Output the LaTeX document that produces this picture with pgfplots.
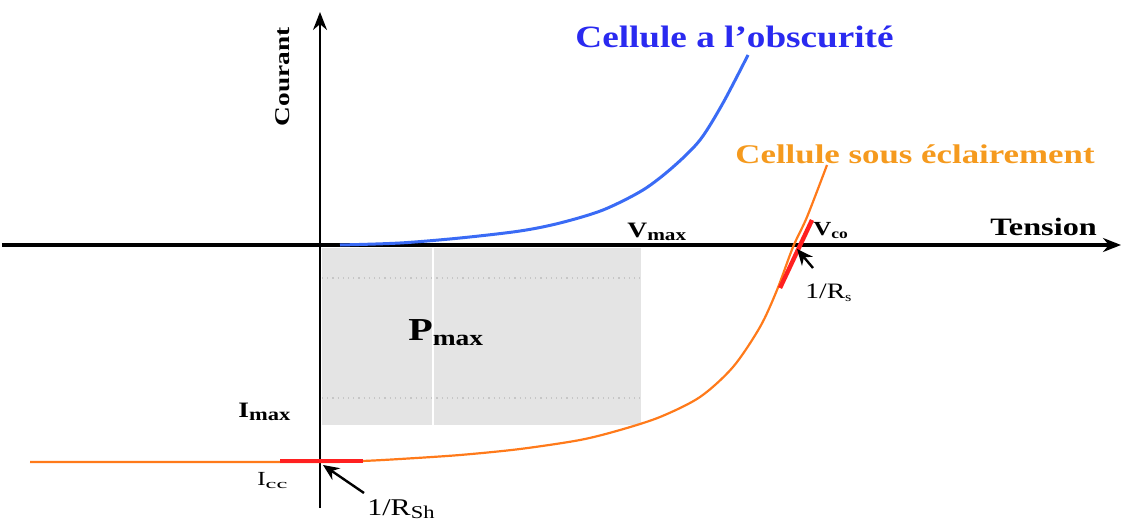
\documentclass[border=0pt]{standalone}
\usepackage{pgfplots}
\pgfplotsset{compat=1.18}
\usepackage{fontspec}
\setmainfont{Liberation Serif}
\usetikzlibrary{arrows.meta}

\definecolor{darkblue}{HTML}{2A2AF0}
\definecolor{curveblue}{HTML}{3A6BF5}
\definecolor{curveorange}{HTML}{FF7A1A}
\definecolor{textorange}{HTML}{F59A1E}
\definecolor{marker}{HTML}{FF2020}
\definecolor{zone}{HTML}{E4E4E4}

% wide-set lettering
\newcommand\st[2][1.25]{\scalebox{#1}[1]{#2}}
\newcommand\fs[1]{\fontsize{#1}{#1}\selectfont}
\newcommand\low[2]{\raisebox{-0.35ex}{\fs{#1}#2}}

\begin{document}
\begin{tikzpicture}
\begin{axis}[
  name=ax,
  scale only axis, width=561.5pt, height=262pt,
  xmin=0, xmax=1123, ymin=0, ymax=524, y dir=reverse,
  axis lines=none, clip=false,
]
% operating region under the maximum power point
\fill[zone] (axis cs:322,248) rectangle (axis cs:641,425);
\draw[white, line width=1pt] (axis cs:433,248) -- (axis cs:433,425);
\draw[gray!45, dotted, line width=0.6pt] (axis cs:322,278) -- (axis cs:641,278);
\draw[gray!45, dotted, line width=0.6pt] (axis cs:322,398) -- (axis cs:641,398);

% axes
\draw[black, line width=1.6pt, -{Stealth[length=9pt,width=7pt]}] (axis cs:2,245) -- (axis cs:1121,245);
\draw[black, line width=1pt, -{Stealth[length=9pt,width=7pt]}] (axis cs:320,508) -- (axis cs:320,12);

% dark characteristic
\addplot[curveblue, line width=1.5pt, smooth, tension=0.5] coordinates {
 (340,245) (400,243) (460,238) (520,231) (560,223) (603,210)
 (643,190) (673,167) (700,140) (723,103) (748,55)
};
% illuminated characteristic
\addplot[curveorange, line width=1.1pt, smooth, tension=0.5] coordinates {
 (30,462) (320,462) (362,461) (400,459) (460,455) (520,449) (580,440)
 (620,430) (660,417) (700,397) (733,367) (760,327) (777,290)
 (793,247) (807,217) (827,165)
};
% slopes at short circuit and open circuit
\addplot[marker, line width=2.2pt] coordinates {(280,461) (363,461)};
\addplot[marker, line width=2.2pt] coordinates {(780,288) (812,220)};

% pointers
\draw[black, line width=1.2pt, -{Stealth[length=8pt,width=7pt]}] (axis cs:364,493) -- (axis cs:323,465);
\draw[black, line width=1.2pt, -{Stealth[length=8pt,width=7pt]}] (axis cs:813,268) -- (axis cs:797,249);

% labels
\node[anchor=base west, inner sep=0pt, darkblue] at (axis cs:575,48)
  {\st[1.2]{\fs{15.5}\bfseries Cellule a l’obscurité}};
\node[anchor=base west, inner sep=0pt, textorange] at (axis cs:735,163)
  {\st[1.29]{\fs{13.5}\bfseries Cellule sous éclairement}};
\node[anchor=base west, inner sep=0pt] at (axis cs:990,235)
  {\st[1.29]{\fs{12.5}\bfseries Tension}};
\node[rotate=90, inner sep=0pt] at (axis cs:283,77)
  {\st[1.3]{\fs{10.5}\bfseries Courant}};
\node[anchor=base west, inner sep=0pt] at (axis cs:627,237)
  {\st{\bfseries\fs{11}V\low{8.5}{max}}};
\node[anchor=base west, inner sep=0pt] at (axis cs:813,235)
  {\st{\bfseries\fs{10}V\low{7}{co}}};
\node[anchor=base west, inner sep=0pt] at (axis cs:805,298)
  {\st{\fs{11}1/R\low{6.5}{s}}};
\node[anchor=base west, inner sep=0pt] at (axis cs:408,340)
  {\st{\bfseries\fs{16}P\low{11}{max}}};
\node[anchor=base west, inner sep=0pt] at (axis cs:238,417)
  {\st{\bfseries\fs{11}I\low{9}{max}}};
\node[anchor=base west, inner sep=0pt] at (axis cs:257,485)
  {\st{\fs{10}I\low{6.5}{\st[1.5]{cc}}}};
\node[anchor=base west, inner sep=0pt] at (axis cs:367,515)
  {\st{\fs{12}1/R\low{9}{Sh}}};
\end{axis}
\pgfresetboundingbox
\useasboundingbox (ax.south west) rectangle (ax.north east);
\end{tikzpicture}
\end{document}
